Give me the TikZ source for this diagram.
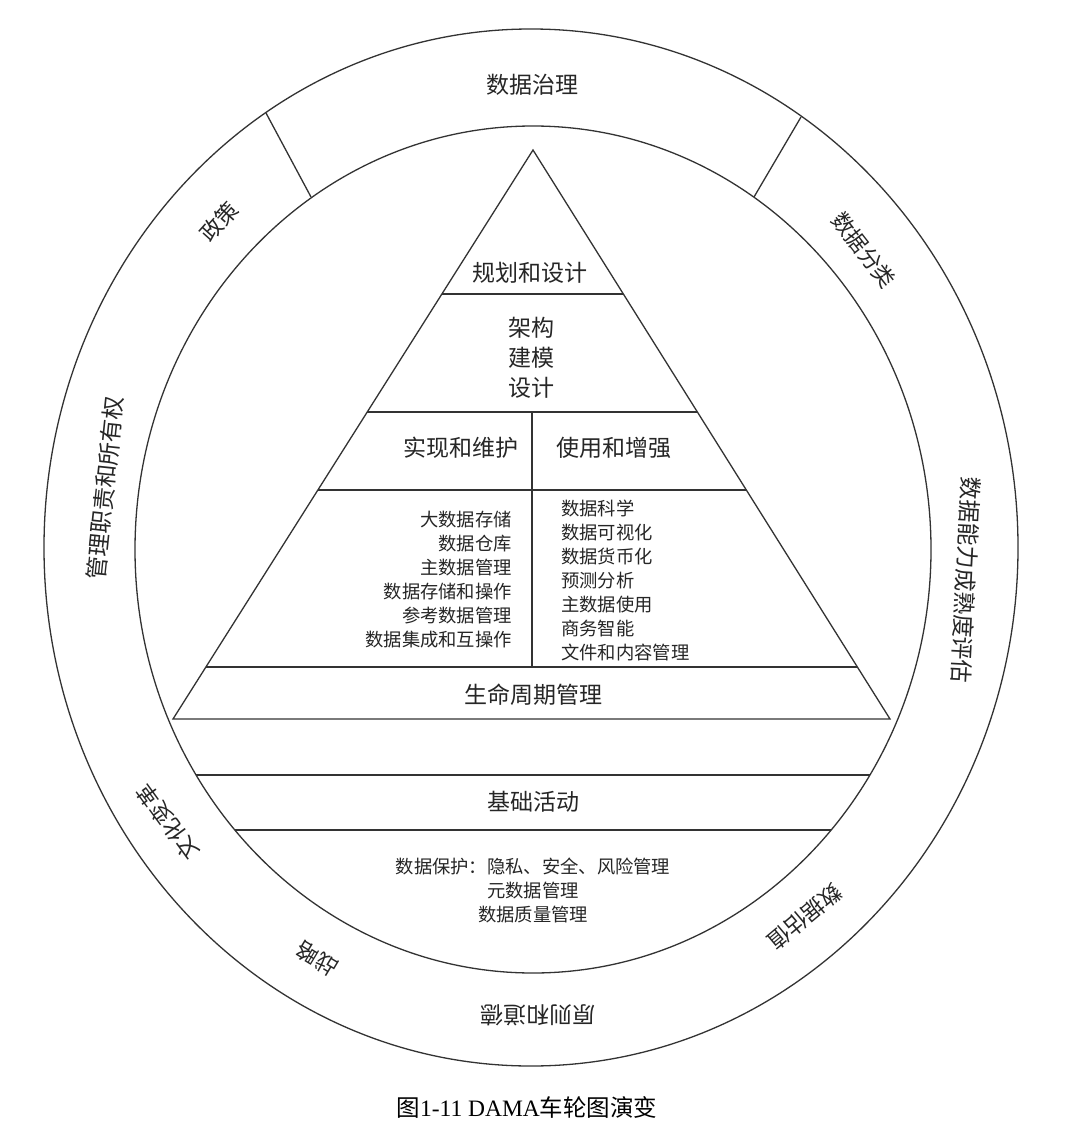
\documentclass[tikz,border=0pt]{standalone}
\usepackage{fontspec}
\newfontfamily\cjk{Noto Sans CJK SC}
\newfontfamily\latinserif{Liberation Serif}
\begin{document}
\begin{tikzpicture}[x=1pt,y=-1pt,
  ln/.style={line width=1.3pt, draw=black!80},
  lbl/.style={inner sep=0pt, text=black!85, font=\cjk\fontsize{23}{30}\selectfont},
  small/.style={inner sep=0pt, text=black!85, font=\cjk\fontsize{18.3}{24}\selectfont},
  ring/.style={inner sep=0pt, text=black!85, font=\cjk\fontsize{22}{26}\selectfont}]
\useasboundingbox[fill=white] (0,0) rectangle (1080,1134);

% wheel
\draw[ln] (531,547.5) ellipse [x radius=487, y radius=518.5];
\draw[ln] (533,549.5) ellipse [x radius=398, y radius=423.5];
\draw[ln] (266,113) -- (311,197);
\draw[ln] (801,117) -- (754,197);

% pyramid
\coordinate (apex) at (533,150);
\coordinate (bl) at (173,719);
\coordinate (br) at (890,719);
\draw[ln] (apex) -- (br) -- (bl) -- cycle;
\begin{scope}
  \clip (apex) -- (br) -- (bl) -- cycle;
  \draw[ln] (100,294) -- (1000,294);
  \draw[ln] (100,412) -- (1000,412);
  \draw[ln] (100,490) -- (1000,490);
  \draw[ln] (100,667) -- (1000,667);
  \draw[ln] (532,412) -- (532,667);
\end{scope}
\begin{scope}
  \clip (533,549.5) ellipse [x radius=398, y radius=423.5];
  \draw[ln] (100,775) -- (1000,775);
  \draw[ln] (100,830) -- (1000,830);
\end{scope}

% pyramid texts
\node[lbl] (plan) at (530,273) {规划和设计};
\node[lbl, align=center] (arch) at (531,358) {架构\\建模\\设计};
\node[lbl] (impl) at (461,448) {实现和维护};
\node[lbl] (use) at (614,448) {使用和增强};
\node[small, align=right, anchor=east] (leftlist) at (512,580) {大数据存储\\数据仓库\\主数据管理\\数据存储和操作\\参考数据管理\\数据集成和互操作};
\node[small, align=left, anchor=west] (rightlist) at (561,580) {数据科学\\数据可视化\\数据货币化\\预测分析\\主数据使用\\商务智能\\文件和内容管理};
\node[lbl] (life) at (533,695) {生命周期管理};
\node[lbl] (base) at (533,802) {基础活动};
\node[small, align=center] (prot) at (533,890) {数据保护：隐私、安全、风险管理\\元数据管理\\数据质量管理};

% ring texts
\node[lbl] (gov) at (532,85) {数据治理};
\node[ring, rotate=48] (policy) at (219,222) {政策};
\node[ring, rotate=-52] (classify) at (864,250) {数据分类};
\node[lbl, rotate=84] (steward) at (105,488) {管理职责和所有权};
\node[lbl, rotate=-93] (maturity) at (966,580) {数据能力成熟度评估};
\node[ring, rotate=126] (culture) at (168,822) {文化变革};
\node[ring, rotate=149] (strategy) at (317,959) {战略};
\node[lbl, rotate=180] (ethics) at (538,1015) {原则和道德};
\node[ring, rotate=220] (valuation) at (805,917) {数据估值};

% caption
\node[inner sep=0pt, text=black] (caption) at (527,1107) {\fontsize{23.5}{28}\selectfont{\cjk 图}{\latinserif 1-11 DAMA}{\cjk 车轮图演变}};
\end{tikzpicture}
\end{document}
